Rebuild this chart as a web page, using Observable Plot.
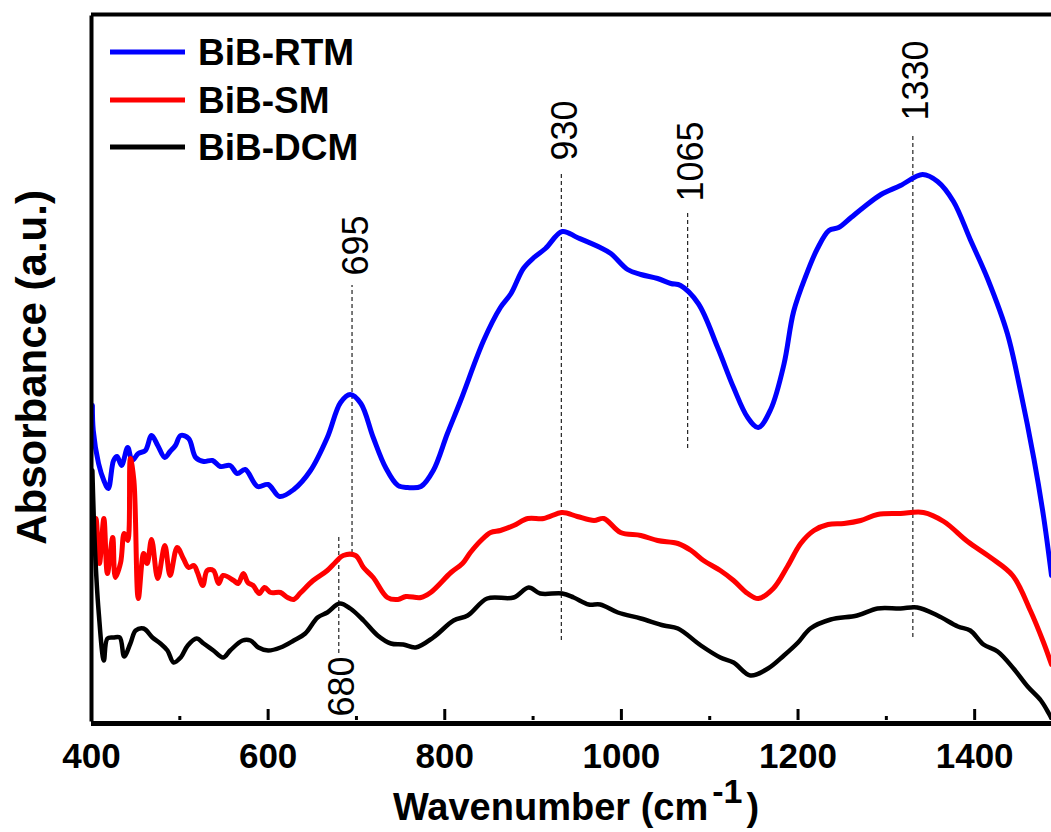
<!DOCTYPE html>
<html>
<head>
<meta charset="utf-8">
<script src="https://cdn.jsdelivr.net/npm/d3@7"></script>
<script src="https://cdn.jsdelivr.net/npm/@observablehq/plot@0.6"></script>
<style>
  body { margin: 0; background: #fff; }
  #chart svg { display: block; }
</style>
</head>
<body>
<div id="chart"></div>
<script>
// ---- Data (wavenumber in cm^-1, absorbance in arbitrary units) ----
const seriesNames = ["BiB-RTM", "BiB-SM", "BiB-DCM"];
const seriesColors = ["#0000ff", "#ff0000", "#000000"];

const rtmWave = [401,402,408,414,419,425,429,434,441,446,453,461,468,475,483,489,495,501,510,518,527,537,546,557,565,574,588,600,613,629,648,667,682,693,705,719,733,747,758,773,787,803,818,844,863,875,889,901,914,933,950,976,988,1007,1022,1041,1056,1067,1087,1109,1127,1143,1155,1169,1184,1195,1209,1222,1235,1246,1260,1274,1294,1316,1341,1358,1376,1395,1415,1437,1452,1467,1478,1487];
const rtmAbs  = [315,290,257,240,232,260,264,255,273,260,267,270,285,275,263,269,275,285,282,263,259,260,254,255,247,251,234,236,224,231,250,283,318,326,317,283,253,235,233,234,250,287,320,380,413,427,452,463,472,489,483,473,467,451,446,442,437,435,417,373,333,303,293,311,356,409,445,472,490,493,503,513,526,535,546,539,519,481,441,387,329,262,204,145];

const smWave = [401,405,409,414,418,424,427,433,437,441,444,448,453,459,463,468,475,483,489,497,504,510,516,520,526,531,538,544,549,561,566,572,577,583,590,596,603,614,622,629,637,651,667,676,685,699,708,719,735,747,756,773,784,807,820,829,841,852,863,878,894,912,933,950,969,980,999,1022,1041,1064,1079,1093,1112,1127,1143,1155,1172,1188,1203,1218,1234,1252,1271,1290,1316,1342,1365,1392,1418,1443,1463,1478,1487];
const smAbs  = [170,202,157,202,147,183,143,158,187,180,262,240,122,167,157,181,142,175,145,173,162,153,155,148,135,150,150,137,145,140,137,147,138,135,127,133,128,128,123,121,128,140,150,158,165,165,153,143,123,121,124,123,128,148,157,168,180,188,190,195,202,202,208,204,200,202,188,185,180,177,170,160,150,140,127,122,132,154,177,190,196,197,200,206,207,208,199,179,163,145,110,78,56];

const dcmWave = [401,404,408,414,418,425,432,437,444,450,459,469,478,486,493,501,509,519,527,538,549,557,571,580,589,600,614,629,642,656,667,681,693,708,724,739,753,767,787,810,826,848,878,895,908,933,946,963,976,996,1022,1048,1064,1090,1112,1127,1146,1166,1184,1200,1214,1237,1267,1290,1316,1335,1358,1381,1395,1410,1426,1444,1460,1475,1484,1487];
const dcmAbs  = [250,170,110,60,82,83,83,64,77,90,92,83,77,70,58,63,75,82,77,70,63,70,80,80,73,70,73,80,87,103,108,117,112,100,85,77,76,73,83,100,105,122,123,133,127,127,123,116,116,108,102,95,92,75,63,58,45,52,65,78,92,101,105,112,112,113,105,94,90,76,69,52,34,20,7,2];

// ---- Peak annotations ----
const peakLabels = ["695", "680", "930", "1065", "1330"];
const peakPos    = [695, 680, 932, 1075, 1330];
const peakLow    = [167, 67, 80, 272, 83];
const peakHigh   = [435, 185, 548, 508, 584];
const peakTextY  = [475, 34, 590, 559, 640];

// ---- Axis ticks ----
const majorTicks = [400, 600, 800, 1000, 1200, 1400];
const minorTicks = [500, 700, 900, 1100, 1300];

// ---- Build tables ----
const waves = [rtmWave, smWave, dcmWave];
const abss = [rtmAbs, smAbs, dcmAbs];
const rows = seriesNames.flatMap((name, k) =>
  waves[k].map((w, i) => ({series: name, wave: w, abs: abss[k][i]})));
const peaks = peakLabels.map((label, i) => ({
  label, pos: peakPos[i], y1: peakLow[i], y2: peakHigh[i], ty: peakTextY[i]
}));

const FONT = "'Liberation Sans', Arial, Helvetica, sans-serif";

const chart = Plot.plot({
  width: 1051,
  height: 832,
  marginLeft: 91,
  marginRight: 0,
  marginTop: 14,
  marginBottom: 112,
  style: {fontFamily: FONT, background: "#fff", overflow: "visible", color: "#000"},
  x: {domain: [400, 1487]},
  y: {domain: [0, 706], axis: null},
  marks: [
    Plot.ruleX(peaks, {x: "pos", y1: "y1", y2: "y2", stroke: "#222", strokeWidth: 1.2, strokeDasharray: "4,3"}),
    Plot.text(peaks, {x: "pos", y: "ty", text: "label", rotate: -90, fontSize: 36, dx: 4, fill: "#000"}),
    ...seriesNames.map((name, k) =>
      Plot.line(rows.filter(d => d.series === name), {
        x: "wave", y: "abs", stroke: seriesColors[k], strokeWidth: k === 2 ? 4.5 : 5,
        curve: "catmull-rom", clip: true, strokeLinejoin: "round"
      })),
    Plot.ruleX([400], {stroke: "#000", strokeWidth: 4, dy: 1.5}),
    Plot.ruleY([706], {stroke: "#000", strokeWidth: 4}),
    Plot.ruleY([0], {stroke: "#000", strokeWidth: 5, dy: 3}),
    Plot.ruleX(majorTicks, {y1: 0, y2: 11, stroke: "#000", strokeWidth: 3}),
    Plot.ruleX(minorTicks, {y1: 0, y2: 4, stroke: "#000", strokeWidth: 3}),
    Plot.axisX(majorTicks, {tickSize: 0, tickPadding: 23, fontSize: 35, fontWeight: "bold", label: null, tickFormat: d => String(d)}),
    Plot.text(["Absorbance (a.u.)"], {frameAnchor: "left", textAnchor: "middle", rotate: -90, dx: -59, fontSize: 42, fontWeight: "bold", fill: "#000"})
  ]
});

document.getElementById("chart").appendChild(chart);

// ---- Legend and x-axis title (with superscript) ----
const svg = d3.select(chart);
const legend = svg.append("g").attr("font-family", FONT).attr("font-weight", "bold")
  .attr("font-size", 37).attr("text-anchor", "start");
const legendY = [52, 100, 147];
seriesNames.forEach((name, k) => {
  legend.append("line").attr("x1", 110).attr("x2", 185).attr("y1", legendY[k]).attr("y2", legendY[k])
    .attr("stroke", seriesColors[k]).attr("stroke-width", 5);
  legend.append("text").attr("x", 198).attr("y", legendY[k] + 13).attr("fill", "#000").text(name);
});

const xt = svg.append("text").attr("x", 576).attr("y", 820).attr("text-anchor", "middle")
  .attr("font-family", FONT).attr("font-weight", "bold").attr("font-size", 38).attr("fill", "#000");
xt.append("tspan").text("Wavenumber (cm");
xt.append("tspan").attr("dy", -17).attr("dx", 4).attr("font-size", 34).text("-1");
xt.append("tspan").attr("dy", 17).attr("dx", 4).text(")");
</script>
</body>
</html>
